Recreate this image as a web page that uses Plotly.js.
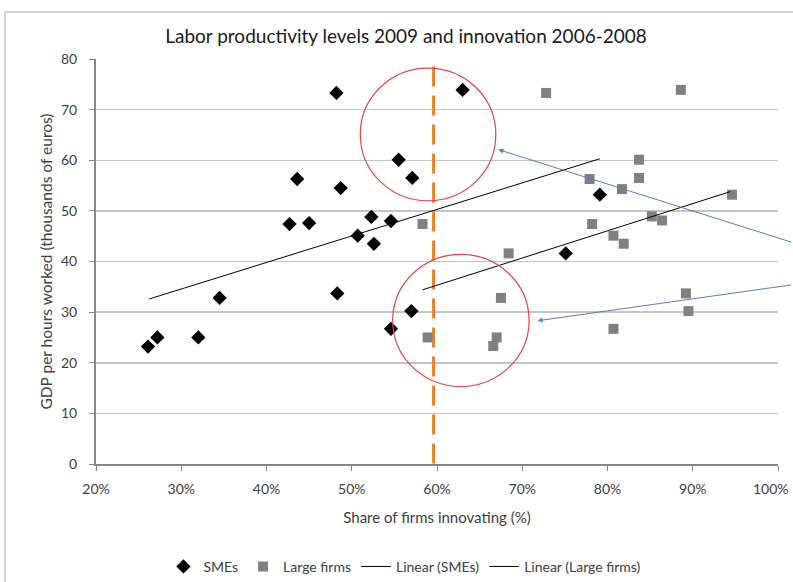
<!DOCTYPE html>
<html><head><meta charset="utf-8">
<script src="https://cdn.plot.ly/plotly-3.0.1.min.js"></script>
<style>html,body{margin:0;padding:0;background:#fff}#chart{width:793px;height:582px}</style>
</head><body><div id="chart"></div>
<script>
// SMEs: share of firms innovating (%) and GDP per hour worked
const smeX = [48.2, 63.0, 55.5, 57.1, 43.6, 48.7, 42.7, 45.0, 52.3, 54.6, 50.7, 52.6, 79.1, 75.1, 26.1, 27.2, 32.0, 34.5, 48.3, 54.6, 57.0];
const smeY = [73.3, 73.9, 60.1, 56.5, 56.3, 54.5, 47.4, 47.6, 48.8, 48.0, 45.1, 43.5, 53.2, 41.6, 23.2, 25.0, 25.0, 32.8, 33.7, 26.7, 30.2];
// Large firms
const largeX = [58.3, 72.8, 88.6, 83.7, 83.7, 77.9, 81.7, 94.6, 78.2, 85.2, 86.4, 80.7, 81.9, 68.4, 67.5, 89.2, 89.5, 80.7, 58.9, 67.0, 66.6];
const largeY = [47.4, 73.3, 73.9, 60.1, 56.5, 56.3, 54.3, 53.2, 47.4, 48.9, 48.1, 45.1, 43.5, 41.6, 32.8, 33.7, 30.2, 26.7, 25.0, 25.0, 23.3];
// Linear trend lines (endpoints)
const trendSmeX = [26.25, 79.1];
const trendSmeY = [32.6, 60.3];
const trendLargeX = [58.3, 94.4];
const trendLargeY = [34.4, 53.8];
// 60% threshold line
const thresholdX = [59.6, 59.6];
const thresholdY = [78.5, 0];
// highlight circles [x0, x1, y0, y1]
const circleUpper = [51.0, 66.9, 52.0, 78.2];
const circleLower = [54.8, 70.8, 15.3, 41.4];
// arrow heads [x, y]
const arrowUpper = [67.2, 62.1];
const arrowLower = [71.8, 28.3];
const xTicks = [20, 30, 40, 50, 60, 70, 80, 90, 100];
const yTicks = [0, 10, 20, 30, 40, 50, 60, 70, 80];

const FONT = "Lato, 'Open Sans', 'Liberation Sans', sans-serif";

// last tick label is drawn as an annotation so that it stays inside the page
const lastTick = xTicks[xTicks.length - 1];
const xTickText = xTicks.map(v => v === lastTick ? '' : v + '%');

const traces = [
  {x: thresholdX, y: thresholdY, mode: 'lines', showlegend: false, hoverinfo: 'skip',
   line: {color: '#E8822A', width: 3, dash: '20px,9px'}},
  {x: smeX, y: smeY, mode: 'markers', name: 'SMEs', type: 'scatter',
   marker: {symbol: 'diamond', size: 11, color: '#000000'}},
  {x: largeX, y: largeY, mode: 'markers', name: 'Large firms', type: 'scatter',
   marker: {symbol: 'square', size: 10, color: '#808080'}},
  {x: trendSmeX, y: trendSmeY, mode: 'lines', name: 'Linear (SMEs)',
   line: {color: '#000000', width: 1}},
  {x: trendLargeX, y: trendLargeY, mode: 'lines', name: 'Linear (Large firms)',
   line: {color: '#000000', width: 1}}
];

const layout = {
  width: 793, height: 582,
  margin: {l: 96, r: 15, t: 59, b: 118},
  paper_bgcolor: '#ffffff', plot_bgcolor: '#ffffff',
  font: {family: FONT, color: '#404040', size: 14},
  title: {text: 'Labor productivity levels 2009 and innovation 2006-2008',
          font: {family: FONT, size: 19, color: '#1a1a1a'}, x: 0.512, xanchor: 'center',
          yref: 'container', y: 0.938, yanchor: 'middle'},
  xaxis: {range: [20, 100], tickvals: xTicks, ticktext: xTickText,
          showgrid: false, zeroline: false, showline: true, linecolor: '#868686', linewidth: 2,
          ticks: 'outside', ticklen: 5, tickcolor: '#868686', ticklabelstandoff: 6,
          automargin: false,
          tickfont: {size: 14, color: '#404040'},
          title: {text: 'Share of firms innovating (%)', font: {size: 15, color: '#404040'}, standoff: 17}},
  yaxis: {range: [0, 80], tickvals: yTicks,
          showgrid: true, gridcolor: '#C4C4C4', gridwidth: 1.5, zeroline: false,
          showline: true, linecolor: '#868686', linewidth: 2,
          ticks: 'outside', ticklen: 5, tickcolor: '#868686', ticklabelstandoff: 9,
          automargin: false,
          tickfont: {size: 14, color: '#404040'},
          title: {text: 'GDP per hours worked (thousands of euros)', font: {size: 15.5, color: '#404040'}, standoff: 5}},
  legend: {orientation: 'h', x: 0.453, xanchor: 'center', yref: 'container', y: 0.026, yanchor: 'middle',
           font: {size: 14, color: '#404040'}, itemwidth: 30, tracegroupgap: 0},
  shapes: [
    {type: 'circle', xref: 'x', yref: 'y', x0: circleUpper[0], x1: circleUpper[1], y0: circleUpper[2], y1: circleUpper[3],
     line: {color: '#E04848', width: 1.2}},
    {type: 'circle', xref: 'x', yref: 'y', x0: circleLower[0], x1: circleLower[1], y0: circleLower[2], y1: circleLower[3],
     line: {color: '#E04848', width: 1.2}},
    {type: 'path', xref: 'paper', yref: 'paper', path: 'M -0.1334,-0.4 L -0.1334,1.116 L 1.05,1.116',
     line: {color: '#C8C8C8', width: 1.5}}
  ],
  annotations: [
    {x: arrowUpper[0], y: arrowUpper[1], xref: 'x', yref: 'y', ax: 295, ay: 93, text: '',
     showarrow: true, arrowhead: 2, arrowsize: 1, arrowwidth: 1, arrowcolor: '#4F81BD'},
    {x: arrowLower[0], y: arrowLower[1], xref: 'x', yref: 'y', ax: 255, ay: -36, text: '',
     showarrow: true, arrowhead: 2, arrowsize: 1, arrowwidth: 1, arrowcolor: '#4F81BD'},
    {x: lastTick, xref: 'x', y: 0, yref: 'y', yshift: -24, xshift: 13, text: lastTick + '%',
     showarrow: false, xanchor: 'right', yanchor: 'middle',
     font: {size: 14, color: '#404040'}}
  ]
};

Plotly.newPlot('chart', traces, layout, {displayModeBar: false, staticPlot: true});
</script>
</body></html>
